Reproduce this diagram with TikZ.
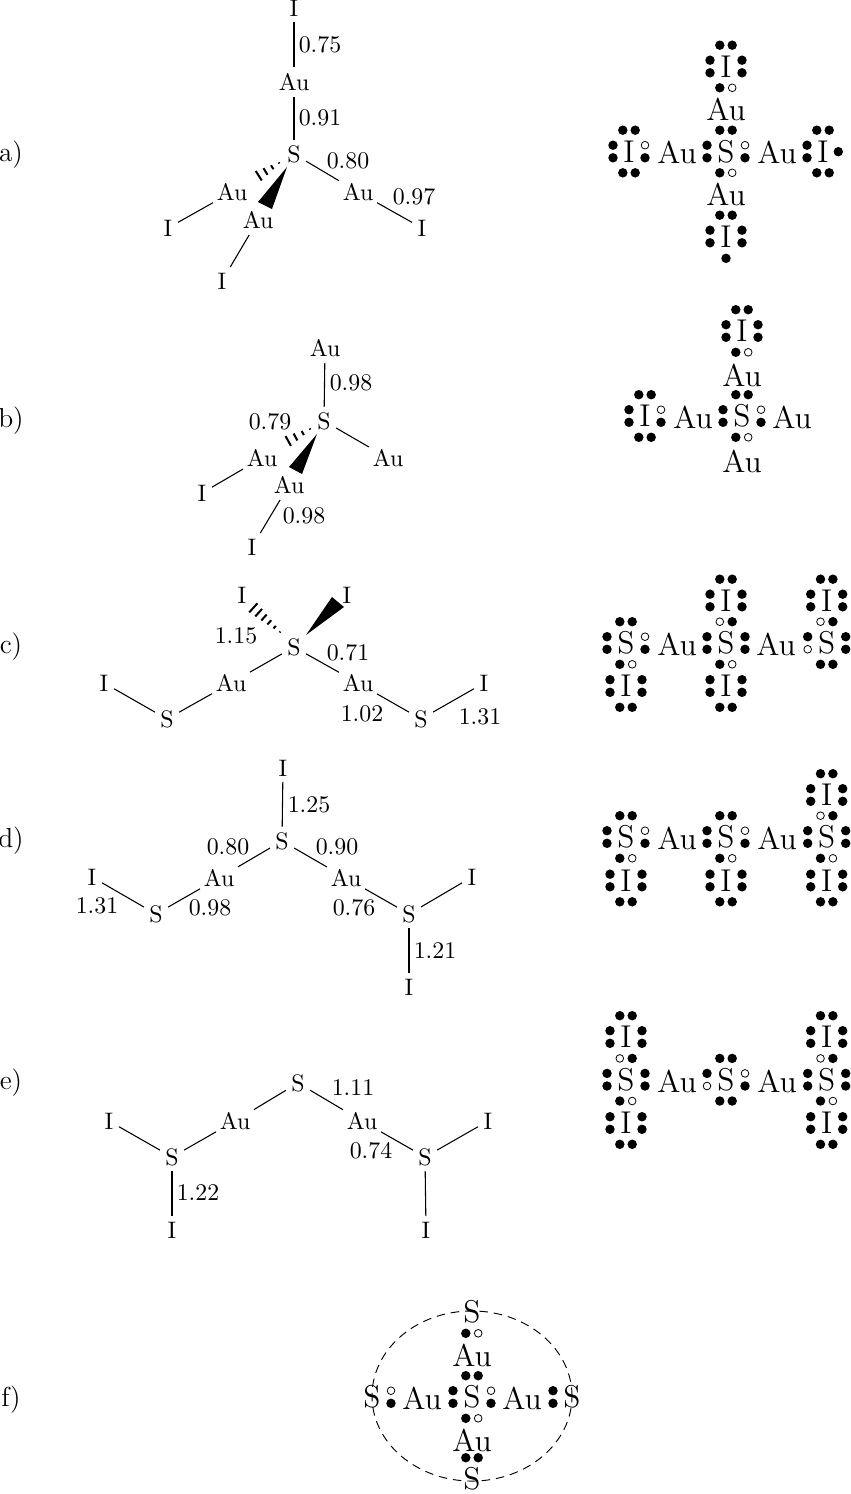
\documentclass[tikz,border=0pt]{standalone}
\usepackage{fontspec}
\usetikzlibrary{calc,shapes.geometric}
\tikzset{
  atomtext/.style={inner sep=0pt,outer sep=0pt,font=\fontsize{10.6}{12}\selectfont},
  au/.style={atomtext,minimum width=16.9pt,minimum height=13.3pt},
  es/.style={atomtext,minimum width=10.7pt,minimum height=12.6pt},
  ei/.style={atomtext,minimum width=8.9pt,minimum height=12.4pt},
  lab/.style={atomtext},
  sidelab/.style={inner sep=0pt,outer sep=0pt,font=\fontsize{12.2}{14}\selectfont},
  bond/.style={line width=0.48pt},
  hashbar/.style={line width=0.9pt},
  wedgefill/.style={fill=black},
  bigatom/.style={inner sep=0pt,outer sep=0pt,font=\fontsize{14}{16}\selectfont},
  dotf/.style={fill=black},
  doto/.style={draw=black,line width=0.35pt,fill=white},
  dotn/.style={},
  ring/.style={draw,ellipse,dashed,dash pattern=on 3.8pt off 2.6pt,line width=0.42pt,minimum width=88.9pt,minimum height=75.6pt,inner sep=0pt}
}
\def\dotpt#1#2#3{\ifx#1f\path[dotf] (#2,#3) circle (2.1pt);\else\ifx#1o\path[doto] (#2,#3) circle (1.7pt);\fi\fi}
\def\dotsT#1#2{\dotpt#1{-6.2}{-21.3}\dotpt#2{6.2}{-21.3}}
\def\dotsB#1#2{\dotpt#1{-6.2}{21.3}\dotpt#2{6.2}{21.3}}
\def\dotsR#1#2{\dotpt#1{\sx}{-6.3}\dotpt#2{\sx}{6.3}}
\def\dotsL#1#2{\dotpt#1{-\sx}{-6.3}\dotpt#2{-\sx}{6.3}}
\newcommand\lew[8]{\node[bigatom] (#3) at (#1,#2) {#4};
  \begin{scope}[shift={(#1,#2)}]\dotsT#5\dotsR#6\dotsB#7\dotsL#8\end{scope}}
\newcommand\lewS[7]{\def\sx{19}\lew{#1}{#2}{#3}{S}{#4}{#5}{#6}{#7}}
\newcommand\lewI[7]{\def\sx{16}\lew{#1}{#2}{#3}{I}{#4}{#5}{#6}{#7}}
\newcommand\hashbond[3]{% near, far, steps
  \foreach \k in {0,...,#3}{
    \pgfmathsetmacro\tt{\k/#3}
    \pgfmathsetmacro\hh{0.3+2.9*\tt}
    \draw[hashbar] ($(#1)!\tt!(#2)!\hh pt!90:(#2)$) -- ($(#1)!\tt!(#2)!\hh pt!-90:(#2)$);
  }}
\begin{document}
\begin{tikzpicture}[x=0.4444pt,y=-0.4444pt]
\useasboundingbox (0,0) rectangle (850,1494);
% side labels
\node[sidelab] (la) at (11,155) {a)};
\node[sidelab] (lb) at (11,421) {b)};
\node[sidelab] (lc) at (11,647) {c)};
\node[sidelab] (ld) at (11,841) {d)};
\node[sidelab] (le) at (11,1083) {e)};
\node[sidelab] (lf) at (11,1400) {f)};
% ---- a left
\node[ei] (aI0) at (294,8) {I};
\node[au] (aAu0) at (294,82) {Au};
\node[es] (aS) at (294,154) {S};
\node[au] (aAuL) at (232,192) {Au};
\node[au] (aAuF) at (258,220) {Au};
\node[au] (aAuR) at (358,192) {Au};
\node[ei] (aIL) at (168,228) {I};
\node[ei] (aIF) at (222,281) {I};
\node[ei] (aIR) at (422,228) {I};
\draw[bond] (aI0)--(aAu0);
\draw[bond] (aAu0)--(aS);
\draw[bond] (aS)--(aAuR);
\draw[bond] (aAuR)--(aIR);
\draw[bond] (aAuL)--(aIL);
\draw[bond] (aAuF)--(aIF);
\coordinate (aW0) at (287,167);\coordinate (aW1) at (258,202);\coordinate (aW2) at (272,209);
\fill[wedgefill] (aW0)--(aW1)--(aW2)--cycle;
\coordinate (aHn) at (279,163);\coordinate (aHf) at (252,180);
\hashbond{aHn}{aHf}{4}
\node[lab] (a1) at (320,45) {0.75};
\node[lab] (a2) at (320,118) {0.91};
\node[lab] (a3) at (348,161) {0.80};
\node[lab] (a4) at (414,197) {0.97};
% ---- b left
\node[au] (bAu0) at (325,348) {Au};
\node[es] (bS) at (324,421) {S};
\node[au] (bAuL) at (262,458) {Au};
\node[au] (bAuF) at (289,485) {Au};
\node[au] (bAuR) at (388,458) {Au};
\node[ei] (bIL) at (202,493) {I};
\node[ei] (bIF) at (252,547) {I};
\draw[bond] (bAu0)--(bS);
\draw[bond] (bS)--(bAuR);
\draw[bond] (bAuL)--(bIL);
\draw[bond] (bAuF)--(bIF);
\coordinate (bW0) at (317,434);\coordinate (bW1) at (289,467);\coordinate (bW2) at (302,474);
\fill[wedgefill] (bW0)--(bW1)--(bW2)--cycle;
\coordinate (bHn) at (310,429);\coordinate (bHf) at (281,445);
\hashbond{bHn}{bHf}{4}
\node[lab] (b1) at (351,383) {0.98};
\node[lab] (b2) at (270,422) {0.79};
\node[lab] (b3) at (304,516) {0.98};
% ---- c left
\node[ei] (cIL) at (242,595) {I};
\node[ei] (cIR) at (347,595) {I};
\node[es] (cS) at (294,647) {S};
\node[au] (cAuL) at (231,683) {Au};
\node[au] (cAuR) at (358,683) {Au};
\node[es] (cSL) at (167,719) {S};
\node[es] (cSR) at (421,719) {S};
\node[ei] (cIFL) at (104,683) {I};
\node[ei] (cIFR) at (484,683) {I};
\draw[bond] (cS)--(cAuL);
\draw[bond] (cS)--(cAuR);
\draw[bond] (cAuL)--(cSL);
\draw[bond] (cSL)--(cIFL);
\draw[bond] (cAuR)--(cSR);
\draw[bond] (cSR)--(cIFR);
\coordinate (cW0) at (306,635);\coordinate (cW1) at (332,597);\coordinate (cW2) at (344,607);
\fill[wedgefill] (cW0)--(cW1)--(cW2)--cycle;
\coordinate (cHn) at (280,632);\coordinate (cHf) at (248,603);
\hashbond{cHn}{cHf}{6}
\node[lab] (c1) at (236,636) {1.15};
\node[lab] (c2) at (348,653) {0.71};
\node[lab] (c3) at (362,714) {1.02};
\node[lab] (c4) at (480,717) {1.31};
% ---- d left
\node[ei] (dI0) at (283,768) {I};
\node[es] (dS) at (282,841) {S};
\node[au] (dAuL) at (219,878) {Au};
\node[au] (dAuR) at (346,878) {Au};
\node[es] (dSL) at (156,914) {S};
\node[ei] (dIL) at (92,877) {I};
\node[es] (dSR) at (409,914) {S};
\node[ei] (dIR) at (472,877) {I};
\node[ei] (dIB) at (409,987) {I};
\draw[bond] (dI0)--(dS);
\draw[bond] (dS)--(dAuL);
\draw[bond] (dS)--(dAuR);
\draw[bond] (dAuL)--(dSL);
\draw[bond] (dSL)--(dIL);
\draw[bond] (dAuR)--(dSR);
\draw[bond] (dSR)--(dIR);
\draw[bond] (dSR)--(dIB);
\node[lab] (d1) at (309,805) {1.25};
\node[lab] (d2) at (228,847) {0.80};
\node[lab] (d3) at (337,847) {0.90};
\node[lab] (d4) at (97,906) {1.31};
\node[lab] (d5) at (210,908) {0.98};
\node[lab] (d6) at (354,908) {0.76};
\node[lab] (d7) at (435,951) {1.21};
% ---- e left
\node[es] (eS) at (298,1083) {S};
\node[au] (eAuL) at (235,1121) {Au};
\node[au] (eAuR) at (362,1121) {Au};
\node[es] (eSL) at (172,1157) {S};
\node[es] (eSR) at (425,1157) {S};
\node[ei] (eIL) at (109,1121) {I};
\node[ei] (eIR) at (488,1121) {I};
\node[ei] (eIBL) at (172,1230) {I};
\node[ei] (eIBR) at (426,1230) {I};
\draw[bond] (eS)--(eAuL);
\draw[bond] (eS)--(eAuR);
\draw[bond] (eAuL)--(eSL);
\draw[bond] (eSL)--(eIL);
\draw[bond] (eSL)--(eIBL);
\draw[bond] (eAuR)--(eSR);
\draw[bond] (eSR)--(eIR);
\draw[bond] (eSR)--(eIBR);
\node[lab] (e1) at (353,1088) {1.11};
\node[lab] (e2) at (371,1151) {0.74};
\node[lab] (e3) at (198,1193) {1.22};
% ==== Lewis structures
% a
\lewI{726}{66.5}{ra1}{ff}{ff}{fo}{ff}
\node[bigatom] (ra2) at (726,109) {Au};
\lewS{726}{151.5}{ra3}{ff}{of}{fo}{ff}
\node[bigatom] (ra4) at (726,194.5) {Au};
\lewI{726}{236.5}{ra5}{ff}{ff}{nn}{ff}
\path[dotf] (726,258.3) circle (2.1pt);
\node[bigatom] (ra6) at (677,152) {Au};
\node[bigatom] (ra7) at (777,152) {Au};
\lewI{629}{151.5}{ra8}{ff}{of}{ff}{ff}
\lewI{823}{151.5}{ra9}{ff}{nn}{ff}{ff}
\path[dotf] (838.3,151.7) circle (2.1pt);
% b
\lewI{742}{331}{rb1}{ff}{ff}{fo}{ff}
\node[bigatom] (rb2) at (742,375) {Au};
\lewS{742}{416}{rb3}{ff}{of}{fo}{ff}
\node[bigatom] (rb4) at (742,461) {Au};
\lewI{645}{416}{rb5}{ff}{of}{ff}{ff}
\node[bigatom] (rb6) at (693,417) {Au};
\node[bigatom] (rb7) at (792,417) {Au};
% c
\lewI{726}{600.5}{rc1}{ff}{ff}{nn}{ff}
\lewS{726}{643}{rc2}{of}{ff}{fo}{ff}
\lewI{726}{686}{rc3}{nn}{ff}{ff}{ff}
\lewS{626}{643}{rc4}{ff}{of}{fo}{ff}
\lewI{626}{686}{rc5}{nn}{ff}{ff}{ff}
\node[bigatom] (rc6) at (677,644) {Au};
\node[bigatom] (rc7) at (776,644) {Au};
\lewS{826.7}{643}{rc8}{of}{ff}{ff}{fo}
\lewI{826.7}{600.5}{rc9}{ff}{ff}{nn}{ff}
% d
\lewS{626}{837}{rd1}{ff}{of}{fo}{ff}
\lewI{626}{880.5}{rd2}{nn}{ff}{ff}{ff}
\lewS{726}{837}{rd3}{ff}{of}{fo}{ff}
\lewI{726}{880.5}{rd4}{nn}{ff}{ff}{ff}
\lewS{826.7}{837}{rd5}{of}{ff}{fo}{ff}
\lewI{826.7}{880.5}{rd6}{nn}{ff}{ff}{ff}
\lewI{826.7}{795}{rd7}{ff}{ff}{nn}{ff}
\node[bigatom] (rd8) at (677,838) {Au};
\node[bigatom] (rd9) at (777,838) {Au};
% e
\lewI{626}{1037}{re1}{ff}{ff}{nn}{ff}
\lewS{626}{1079.7}{re2}{of}{ff}{fo}{ff}
\lewI{626}{1123}{re3}{nn}{ff}{ff}{ff}
\lewS{726}{1079.7}{re4}{ff}{of}{ff}{fo}
\lewI{826.7}{1037}{re5}{ff}{ff}{nn}{ff}
\lewS{826.7}{1079.7}{re6}{of}{ff}{fo}{ff}
\lewI{826.7}{1123}{re7}{nn}{ff}{ff}{ff}
\node[bigatom] (re8) at (677,1081) {Au};
\node[bigatom] (re9) at (777,1081) {Au};
% f
\node[ring] (fring) at (472,1396) {};
\lewS{472}{1312}{rf1}{nn}{nn}{fo}{nn}
\node[bigatom] (rf2) at (472,1355) {Au};
\lewS{472}{1397}{rf3}{ff}{of}{fo}{ff}
\node[bigatom] (rf4) at (472,1440) {Au};
\lewS{472}{1479}{rf5}{ff}{nn}{nn}{nn}
\lewS{372}{1397}{rf6}{nn}{of}{nn}{nn}
\node[bigatom] (rf7) at (422,1398) {Au};
\node[bigatom] (rf8) at (522,1398) {Au};
\lewS{572}{1397}{rf9}{nn}{nn}{nn}{ff}
\end{tikzpicture}
\end{document}
